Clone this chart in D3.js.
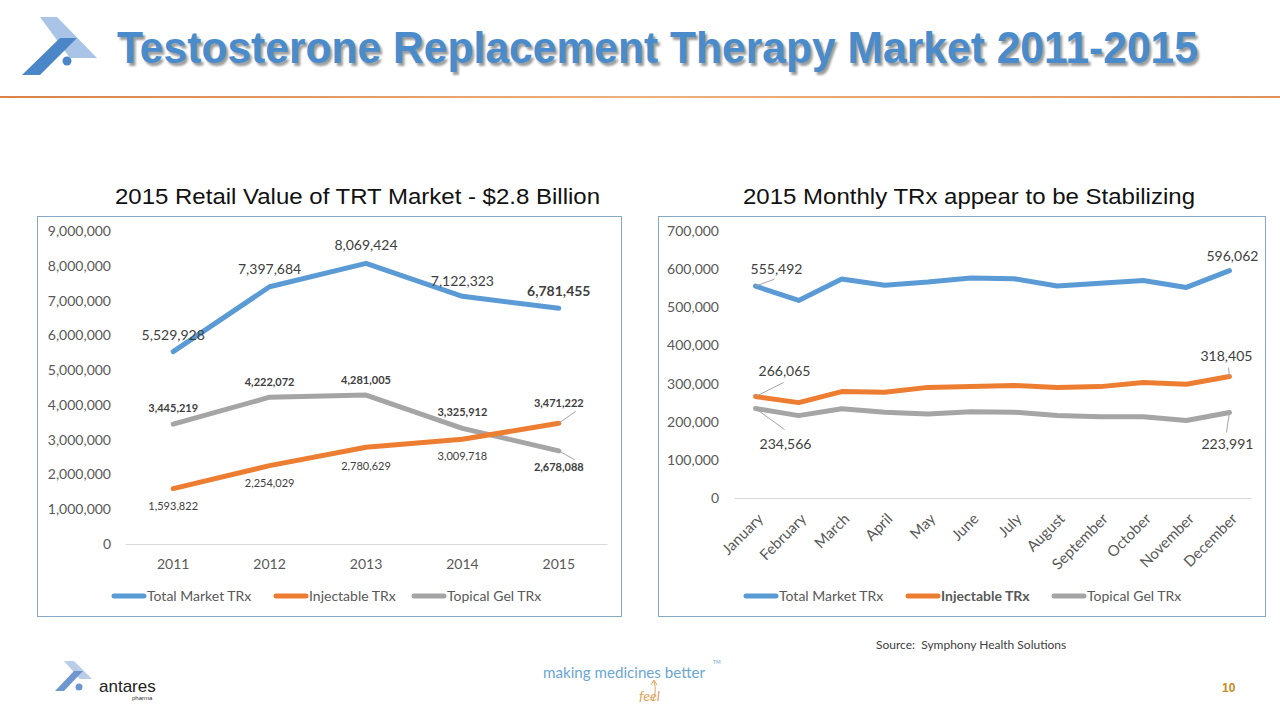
<!DOCTYPE html>
<html><head><meta charset="utf-8">
<script src="https://cdn.jsdelivr.net/npm/d3@7"></script>
<style>
html,body{margin:0;padding:0;background:#fff;}
svg{display:block;}
</style></head>
<body>
<svg id="chart" width="1280" height="720"></svg>
<script>
// ---------------- DATA ----------------
const years = ["2011", "2012", "2013", "2014", "2015"];
const annualTotal = [5529928, 7397684, 8069424, 7122323, 6781455];
const annualInjectable = [1593822, 2254029, 2780629, 3009718, 3471222];
const annualGel = [3445219, 4222072, 4281005, 3325912, 2678088];
const annualTicks = [0, 1000000, 2000000, 3000000, 4000000, 5000000, 6000000, 7000000, 8000000, 9000000];

const months = ["January", "February", "March", "April", "May", "June", "July", "August", "September", "October", "November", "December"];
const monthlyTotal = [555492, 518000, 574000, 558000, 566000, 577000, 575000, 556000, 563000, 570000, 552000, 596062];
const monthlyInjectable = [266065, 250000, 279000, 277000, 290000, 292000, 295000, 290000, 292000, 303000, 298000, 318405];
const monthlyGel = [234566, 216000, 234000, 225000, 220000, 226000, 225000, 216000, 213000, 213000, 203000, 223991];
const monthlyTicks = [0, 100000, 200000, 300000, 400000, 500000, 600000, 700000];

const seriesNames = ["Total Market TRx", "Injectable TRx", "Topical Gel TRx"];
const seriesColors = ["#5b9bd5", "#ed7d31", "#a5a5a5"];

// ---------------- SETUP ----------------
const svg = d3.select("#chart");
const fmt = d3.format(",");
const TICK_FONT = "Lato, 'Open Sans', sans-serif";

const defs = svg.append("defs");
const blur = defs.append("filter").attr("id", "shadow").attr("x", "-5%").attr("y", "-20%").attr("width", "110%").attr("height", "150%");
blur.append("feGaussianBlur").attr("stdDeviation", 1.2);

// Header
const logo = svg.append("g");
logo.append("polygon").attr("points", "40,17 57,17 97,58 70,58").attr("fill", "#a9c4e6");
logo.append("polygon").attr("points", "22,75 40,75 77,38 60,38").attr("fill", "#4a86c8");
logo.append("circle").attr("cx", 67).attr("cy", 61).attr("r", 4.5).attr("fill", "#4a86c8");

svg.append("text").attr("x", 119.5).attr("y", 65.5)
  .attr("font-family", "'Liberation Sans', Arial, sans-serif").attr("font-weight", "bold")
  .attr("font-size", 45).attr("fill", "#7a7a7a").attr("opacity", 0.75).attr("filter", "url(#shadow)")
  .attr("textLength", 1081).attr("lengthAdjust", "spacingAndGlyphs")
  .text("Testosterone Replacement Therapy Market 2011-2015");
svg.append("text").attr("x", 117).attr("y", 63)
  .attr("font-family", "'Liberation Sans', Arial, sans-serif").attr("font-weight", "bold")
  .attr("font-size", 45).attr("fill", "#4a8bcb")
  .attr("textLength", 1081).attr("lengthAdjust", "spacingAndGlyphs")
  .text("Testosterone Replacement Therapy Market 2011-2015");

const grad = defs.append("linearGradient").attr("id", "rule");
grad.append("stop").attr("offset", "0%").attr("stop-color", "#d9824a");
grad.append("stop").attr("offset", "50%").attr("stop-color", "#eeb07e");
grad.append("stop").attr("offset", "100%").attr("stop-color", "#e0915a");
svg.append("rect").attr("x", 0).attr("y", 96).attr("width", 1280).attr("height", 2).attr("fill", "url(#rule)");

// Chart titles
svg.append("text").attr("x", 115).attr("y", 204)
  .attr("font-family", "'Liberation Sans', Arial, sans-serif").attr("font-size", 22).attr("fill", "#111")
  .attr("textLength", 485).attr("lengthAdjust", "spacingAndGlyphs")
  .text("2015 Retail Value of TRT Market - $2.8 Billion");
svg.append("text").attr("x", 743).attr("y", 204)
  .attr("font-family", "'Liberation Sans', Arial, sans-serif").attr("font-size", 22).attr("fill", "#111")
  .attr("textLength", 452).attr("lengthAdjust", "spacingAndGlyphs")
  .text("2015 Monthly TRx appear to be Stabilizing");

// Chart frames
svg.append("rect").attr("x", 37.5).attr("y", 216.5).attr("width", 584).attr("height", 400)
  .attr("fill", "none").attr("stroke", "#86aac6").attr("stroke-width", 1);
svg.append("rect").attr("x", 658.5).attr("y", 216.5).attr("width", 607).attr("height", 400)
  .attr("fill", "none").attr("stroke", "#86aac6").attr("stroke-width", 1);

function drawChart(cfg) {
  const g = svg.append("g");
  const x = d3.scaleBand().domain(cfg.categories).range(cfg.xRange);
  const cx = d => x(d) + x.bandwidth() / 2;
  const y = d3.scaleLinear().domain(cfg.yDomain).range(cfg.yRange);

  // y axis (labels only)
  const yAxis = d3.axisLeft(y).tickValues(cfg.ticks).tickFormat(fmt).tickSize(0).tickPadding(0);
  const ya = g.append("g").attr("transform", `translate(${cfg.yLabelX},0)`).call(yAxis);
  ya.select(".domain").remove();
  ya.selectAll("text").attr("font-family", TICK_FONT).attr("font-size", 14).attr("fill", "#595959");

  // x axis baseline
  const xAxis = d3.axisBottom(x).tickSize(0).tickPadding(cfg.xPad);
  const xa = g.append("g").attr("transform", `translate(0,${y(0)})`).call(xAxis);
  xa.select(".domain").attr("stroke", "#d9d9d9").attr("stroke-width", 1);
  xa.selectAll("text").attr("font-family", TICK_FONT).attr("font-size", 14).attr("fill", "#595959");
  if (cfg.rotate) {
    xa.selectAll("text")
      .attr("font-size", 15)
      .attr("text-anchor", "end")
      .attr("dy", "0.35em")
      .attr("transform", `translate(5,${cfg.xPad + 14}) rotate(-45)`)
      .attr("y", 0);
  }

  const line = d3.line().x((d, i) => cx(cfg.categories[i])).y(d => y(d));
  // draw order: gel, injectable, total (total on top)
  [2, 1, 0].forEach(si => {
    g.append("path").datum(cfg.series[si]).attr("d", line)
      .attr("fill", "none").attr("stroke", seriesColors[si]).attr("stroke-width", 5)
      .attr("stroke-linecap", "round").attr("stroke-linejoin", "round");
  });

  // labels
  cfg.labels.forEach(l => {
    const v = cfg.series[l.s][l.i];
    const px = cx(cfg.categories[l.i]), py = y(v);
    if (l.leader) {
      g.append("line").attr("x1", px).attr("y1", py)
        .attr("x2", px + l.leader[0]).attr("y2", py + l.leader[1])
        .attr("stroke", "#a6a6a6").attr("stroke-width", 1);
    }
    g.append("text").attr("x", px + (l.dx || 0)).attr("y", py + l.dy)
      .attr("dy", "0.35em").attr("text-anchor", "middle")
      .attr("font-family", TICK_FONT).attr("font-size", l.size)
      .attr("font-weight", l.bold ? "bold" : "normal")
      .attr("fill", "#404040").text(fmt(v));
  });

  // legend
  seriesNames.forEach((n, i) => {
    const lx = cfg.legendX[i];
    g.append("line").attr("x1", lx).attr("x2", lx + 30).attr("y1", cfg.legendY).attr("y2", cfg.legendY)
      .attr("stroke", seriesColors[i]).attr("stroke-width", 5).attr("stroke-linecap", "round");
    g.append("text").attr("x", lx + 33).attr("y", cfg.legendY).attr("dy", "0.35em")
      .attr("font-family", TICK_FONT).attr("font-size", 14).attr("fill", "#595959")
      .attr("font-weight", cfg.boldLegend === i ? "bold" : "normal").text(n);
  });
}

drawChart({
  categories: years,
  series: [annualTotal, annualInjectable, annualGel],
  xRange: [125, 607], yDomain: [0, 9000000], yRange: [544, 231],
  ticks: annualTicks, yLabelX: 111, xPad: 15, rotate: false,
  labels: [
    {s: 0, i: 0, dy: -17, size: 14}, {s: 0, i: 1, dy: -18, size: 14}, {s: 0, i: 2, dy: -18, size: 14},
    {s: 0, i: 3, dy: -15, size: 14}, {s: 0, i: 4, dy: -17, size: 14, bold: true},
    {s: 2, i: 0, dy: -16, size: 11, bold: true}, {s: 2, i: 1, dy: -15, size: 11, bold: true},
    {s: 2, i: 2, dy: -15, size: 11, bold: true}, {s: 2, i: 3, dy: -16, size: 11, bold: true},
    {s: 2, i: 4, dy: 16, dx: 0, size: 11, bold: true, leader: [16, 9]},
    {s: 1, i: 0, dy: 18, size: 11}, {s: 1, i: 1, dy: 18, size: 11}, {s: 1, i: 2, dy: 19, size: 11},
    {s: 1, i: 3, dy: 17, size: 11}, {s: 1, i: 4, dy: -20, size: 11, bold: true, leader: [17, -12]}
  ],
  legendX: [114, 276, 414], legendY: 596
});

drawChart({
  categories: months,
  series: [monthlyTotal, monthlyInjectable, monthlyGel],
  xRange: [734, 1251], yDomain: [0, 700000], yRange: [498, 231],
  ticks: monthlyTicks, yLabelX: 719, xPad: 4, rotate: true,
  labels: [
    {s: 0, i: 0, dy: -17, dx: 21, size: 14, leader: [19, -7]},
    {s: 0, i: 11, dy: -15, dx: 3, size: 14},
    {s: 1, i: 0, dy: -25, dx: 29, size: 14, leader: [28, -14]},
    {s: 1, i: 11, dy: -20, dx: -3, size: 14, leader: [-1, -9]},
    {s: 2, i: 0, dy: 36, dx: 30, size: 14, leader: [29, 21]},
    {s: 2, i: 11, dy: 32, dx: -2, size: 14, leader: [-3, 20]}
  ],
  legendX: [746, 908, 1054], legendY: 596, boldLegend: 1
});

// Source
svg.append("text").attr("x", 876).attr("y", 649)
  .attr("font-family", TICK_FONT).attr("font-size", 12).attr("fill", "#404040")
  .attr("xml:space", "preserve").text("Source:  Symphony Health Solutions");

// Footer logo
const fl = svg.append("g");
fl.append("polygon").attr("points", "64,661 74,661 92,679 80,679").attr("fill", "#b9cde8");
fl.append("polygon").attr("points", "55,691 64,691 83,671 74,671").attr("fill", "#6f97cf");
fl.append("circle").attr("cx", 79).attr("cy", 687).attr("r", 3.5).attr("fill", "#6f97cf");
svg.append("text").attr("x", 99).attr("y", 692)
  .attr("font-family", "'Liberation Sans', Arial, sans-serif").attr("font-size", 17).attr("fill", "#222")
  .text("antares");
svg.append("text").attr("x", 132).attr("y", 700)
  .attr("font-family", "'Liberation Sans', Arial, sans-serif").attr("font-size", 6).attr("fill", "#333")
  .text("pharma");

// Tagline
svg.append("text").attr("x", 543).attr("y", 678)
  .attr("font-family", TICK_FONT).attr("font-size", 16).attr("fill", "#6aa6d6")
  .attr("textLength", 162).attr("lengthAdjust", "spacingAndGlyphs")
  .text("making medicines better");
svg.append("text").attr("x", 713).attr("y", 664)
  .attr("font-family", TICK_FONT).attr("font-size", 5).attr("fill", "#6aa6d6").text("TM");
svg.append("text").attr("x", 639).attr("y", 701)
  .attr("font-family", TICK_FONT).attr("font-style", "italic").attr("font-size", 14).attr("fill", "#e3a35c")
  .text("feel");
svg.append("path").attr("d", "M653,700 Q657,692 654,681 M651,685 L654,680 L657,685")
  .attr("fill", "none").attr("stroke", "#e3a35c").attr("stroke-width", 1);

// Page number
svg.append("text").attr("x", 1222).attr("y", 692)
  .attr("font-family", "'Liberation Sans', Arial, sans-serif").attr("font-weight", "bold")
  .attr("font-size", 12).attr("fill", "#c98a24").text("10");
</script>
</body></html>
